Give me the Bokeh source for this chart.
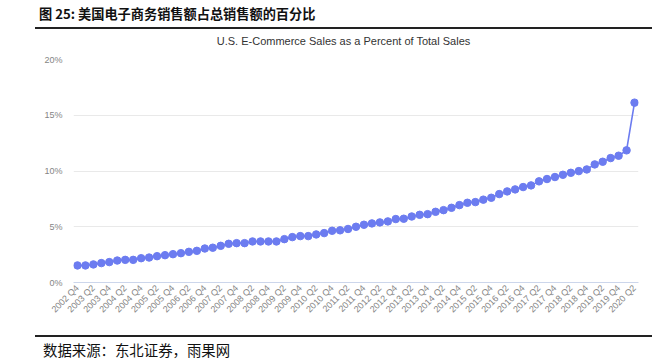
from bokeh.plotting import figure
from bokeh.layouts import column
from bokeh.models import Range1d, FixedTicker, PrintfTickFormatter, ColumnDataSource, Div
from bokeh.embed import file_html
from bokeh.resources import INLINE

# ---------------- data ----------------
quarters = [
    "2002 Q4",
    "2003 Q1", "2003 Q2", "2003 Q3", "2003 Q4",
    "2004 Q1", "2004 Q2", "2004 Q3", "2004 Q4",
    "2005 Q1", "2005 Q2", "2005 Q3", "2005 Q4",
    "2006 Q1", "2006 Q2", "2006 Q3", "2006 Q4",
    "2007 Q1", "2007 Q2", "2007 Q3", "2007 Q4",
    "2008 Q1", "2008 Q2", "2008 Q3", "2008 Q4",
    "2009 Q1", "2009 Q2", "2009 Q3", "2009 Q4",
    "2010 Q1", "2010 Q2", "2010 Q3", "2010 Q4",
    "2011 Q1", "2011 Q2", "2011 Q3", "2011 Q4",
    "2012 Q1", "2012 Q2", "2012 Q3", "2012 Q4",
    "2013 Q1", "2013 Q2", "2013 Q3", "2013 Q4",
    "2014 Q1", "2014 Q2", "2014 Q3", "2014 Q4",
    "2015 Q1", "2015 Q2", "2015 Q3", "2015 Q4",
    "2016 Q1", "2016 Q2", "2016 Q3", "2016 Q4",
    "2017 Q1", "2017 Q2", "2017 Q3", "2017 Q4",
    "2018 Q1", "2018 Q2", "2018 Q3", "2018 Q4",
    "2019 Q1", "2019 Q2", "2019 Q3", "2019 Q4",
    "2020 Q1", "2020 Q2",
]
ecommerce_share_pct = [
    1.53, 1.53, 1.62, 1.74, 1.83, 1.97, 2.03, 2.03, 2.18, 2.24,
    2.36, 2.45, 2.54, 2.63, 2.75, 2.84, 3.05, 3.12, 3.29, 3.47,
    3.53, 3.53, 3.68, 3.68, 3.68, 3.68, 3.89, 4.07, 4.16, 4.16,
    4.31, 4.43, 4.64, 4.68, 4.80, 5.00, 5.18, 5.30, 5.39, 5.48,
    5.69, 5.72, 5.92, 6.07, 6.13, 6.34, 6.49, 6.70, 6.94, 7.15,
    7.21, 7.43, 7.60, 7.93, 8.17, 8.35, 8.56, 8.71, 9.07, 9.28,
    9.46, 9.66, 9.84, 9.99, 10.14, 10.59, 10.83, 11.16, 11.37, 11.85,
    16.13,
]
y_ticks = [0, 5, 10, 15, 20]

fig_title = "图 25: 美国电子商务销售额占总销售额的百分比"
chart_title = "U.S. E-Commerce Sales as a Percent of Total Sales"
source_note = "数据来源：东北证券，雨果网"

# ---------------- style / layout ----------------
W = 669
HEAD_H, MAIN_H, FOOT_H = 50, 280, 32       # page bands: 0..50, 50..330, 330..362
FL, FR, FT, FB = 73, 638, 59, 282          # plot frame edges (page pixels)
RULE_L, RULE_W = 35, 617
LINE_C = "#6c7cf0"
CJK = "'Noto Sans CJK SC'"
M0 = (0, 0, 0, 0)


def svg_rule(h, y):
    return (f'<svg xmlns="http://www.w3.org/2000/svg" width="{W}" height="{h}" '
            f'style="position:absolute;left:0;top:0;">'
            f'<rect x="{RULE_L}" y="{y}" width="{RULE_W}" height="2" fill="#222222"/></svg>')


header_html = (
    f'<div style="position:relative;width:{W}px;height:{HEAD_H}px;overflow:hidden;background:#fff;">'
    + svg_rule(HEAD_H, 27)
    + f'<span style="position:absolute;left:39px;top:5px;font-family:{CJK};font-weight:700;'
      f'font-size:13.2px;line-height:18px;color:#111;white-space:nowrap;">{fig_title}</span>'
    + f'<div style="position:absolute;left:35px;top:34px;width:617px;text-align:center;'
      f"font-family:'Liberation Sans';font-size:11px;line-height:14px;color:#333;"
      f'white-space:nowrap;">{chart_title}</div>'
    + '</div>'
)
footer_html = (
    f'<div style="position:relative;width:{W}px;height:{FOOT_H}px;overflow:hidden;background:#fff;">'
    + svg_rule(FOOT_H, 5)
    + f'<span style="position:absolute;left:43px;top:11px;font-family:{CJK};'
      f'font-size:14.4px;line-height:18px;color:#111;white-space:nowrap;">{source_note}</span>'
    + '</div>'
)

header = Div(text=header_html, width=W, height=HEAD_H, margin=M0)
footer = Div(text=footer_html, width=W, height=FOOT_H, margin=M0)

p = figure(width=W, height=MAIN_H, output_backend="svg", toolbar_location=None,
           x_range=Range1d(-0.5, len(quarters) - 0.5), y_range=Range1d(0, 20),
           min_border_left=FL, min_border_right=W - FR,
           min_border_top=FT - HEAD_H, min_border_bottom=HEAD_H + MAIN_H - FB,
           margin=M0)
p.outline_line_color = None
p.background_fill_color = "white"
p.border_fill_color = "white"

x_idx = list(range(len(quarters)))
src = ColumnDataSource(data=dict(x=x_idx, y=ecommerce_share_pct, q=quarters))
p.line(x="x", y="y", source=src, line_color=LINE_C, line_width=1.6)
p.scatter(x="x", y="y", source=src, size=7.5, fill_color=LINE_C, line_color=LINE_C)

label_ticks = list(range(0, len(quarters), 2))
p.xaxis.ticker = FixedTicker(ticks=label_ticks)
p.xaxis.major_label_overrides = {i: quarters[i] for i in label_ticks}
p.xaxis.major_label_orientation = 0.785398
p.xaxis.major_tick_in = 0
p.xaxis.major_tick_out = 0
p.xaxis.minor_tick_line_color = None
p.xaxis.axis_line_color = "#ccd6eb"
p.xaxis.axis_line_width = 1
p.xaxis.major_label_text_font = "Liberation Sans"
p.xaxis.major_label_text_font_size = "9px"
p.xaxis.major_label_text_color = "#858585"
p.xaxis.major_label_standoff = 4

p.yaxis.ticker = FixedTicker(ticks=y_ticks)
p.yaxis.formatter = PrintfTickFormatter(format="%d%%")
p.yaxis.axis_line_color = None
p.yaxis.major_tick_line_color = None
p.yaxis.major_tick_in = 0
p.yaxis.major_tick_out = 0
p.yaxis.minor_tick_line_color = None
p.yaxis.major_label_text_font = "Liberation Sans"
p.yaxis.major_label_text_font_size = "9px"
p.yaxis.major_label_text_color = "#858585"
p.yaxis.major_label_standoff = 11

p.xgrid.visible = False
p.ygrid.grid_line_color = "#e9e9e9"
p.ygrid.grid_line_width = 1

layout = column(header, p, footer, spacing=0, margin=M0)
open("out.html", "w").write(file_html(layout, INLINE))
